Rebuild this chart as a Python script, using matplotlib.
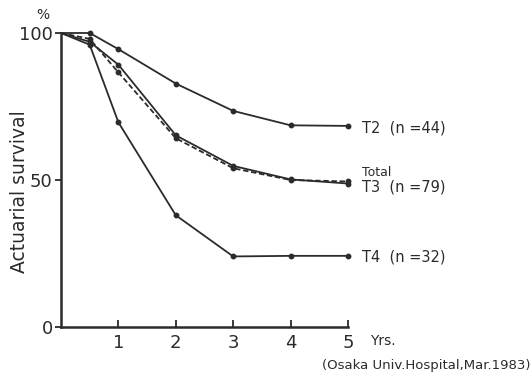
import matplotlib
matplotlib.use("Agg")
import matplotlib.pyplot as plt

years = [0, 0.5, 1, 2, 3, 4, 5]
t2 = [100, 100, 94.5, 82.8, 73.5, 68.6, 68.4]
t3 = [100, 97, 89.2, 65.2, 54.8, 50.2, 48.8]
total = [100, 98, 86.6, 64.2, 54.0, 50.0, 49.5]
t4 = [100, 96, 69.6, 38.0, 24.0, 24.2, 24.2]

labels = {"T2": "T2  (n =44)", "T3": "T3  (n =79)", "T4": "T4  (n =32)"}
xticks = [1, 2, 3, 4, 5]
yticks = [0, 50, 100]

col = "#2b2b2b"
fig = plt.figure(figsize=(5.32, 3.78), dpi=100)
ax = fig.add_axes([61/532, 1-327/378, 287/532, 294/378])
ax.set_xlim(0, 5)
ax.set_ylim(0, 100)
for s in ["top", "right"]:
    ax.spines[s].set_visible(False)
for s in ["left", "bottom"]:
    ax.spines[s].set_linewidth(1.8)
    ax.spines[s].set_color(col)

mk = list(range(1, len(years)))
kw = dict(color=col, lw=1.3, marker="o", ms=3.2, markevery=mk, clip_on=False)
ax.plot(years, t2, **kw)
ax.plot(years, t3, **kw)
ax.plot(years, total, ls=(0, (3, 1.5)), **kw)
ax.plot(years, t4, **kw)

ax.set_xticks(xticks)
ax.set_xticklabels([str(v) for v in xticks], fontsize=13, color=col)
ax.tick_params(axis="x", direction="in", length=5, width=1.3, color=col, pad=5)
ax.set_yticks(yticks)
ax.set_yticklabels([str(v) for v in yticks], fontsize=13, color=col)
ax.tick_params(axis="y", direction="out", length=4, width=1.3, color=col, pad=2)

fig.text(43/532, 1-15/378, "%", fontsize=10, color=col, ha="center", va="center")
fig.text(20/532, 1-192/378, "Actuarial survival", fontsize=13.5, color=col,
         rotation=90, ha="center", va="center")
fig.text(370/532, 1-341/378, "Yrs.", fontsize=10, color=col, ha="left", va="center")

fig.text(362/532, 1-128/378, labels["T2"], fontsize=10.5, color=col, ha="left", va="center")
fig.text(362/532, 1-172/378, "Total", fontsize=9, color=col, ha="left", va="center")
fig.text(362/532, 1-187/378, labels["T3"], fontsize=10.5, color=col, ha="left", va="center")
fig.text(362/532, 1-257/378, labels["T4"], fontsize=10.5, color=col, ha="left", va="center")

fig.text(531/532, 1-366/378, "(Osaka Univ.Hospital,Mar.1983)", fontsize=9.5, color=col,
         ha="right", va="center")

fig.savefig("out.png", dpi=100)
